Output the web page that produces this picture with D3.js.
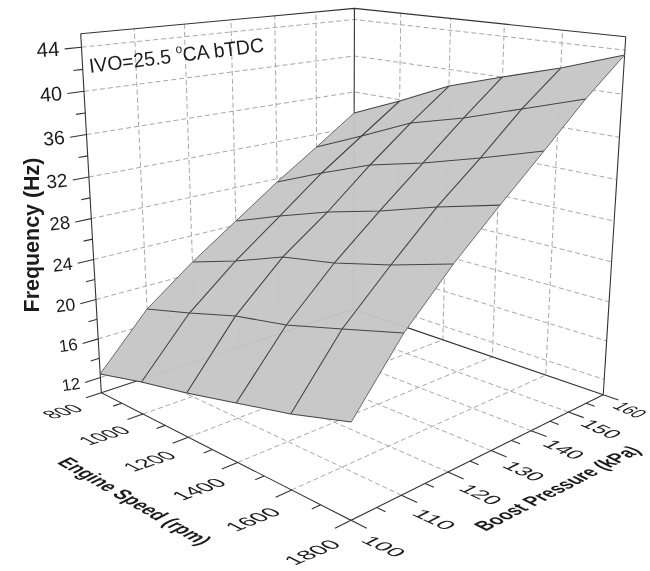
<!DOCTYPE html>
<html><head><meta charset="utf-8"><script src="https://cdn.jsdelivr.net/npm/d3@7"></script>
<style>body{margin:0;background:#fff}text{font-family:"Liberation Sans",Arial,sans-serif;fill:#1c1c1c}</style></head>
<body><svg id="c" width="650" height="571"></svg>
<script>
// ---- data ----
const engineSpeed=[800,1000,1200,1400,1600,1800];
const boostPressure=[100,110,120,130,140,150,160];
const freq100=[12.37,13.63,14.68,15.93,17.17,18.76];
const freq110=[17.60,18.97,20.48,21.45,22.94,24.46];
const freq120=[21.22,22.89,24.83,25.81,27.20,28.86];
const freq130=[24.43,26.33,28.09,29.53,31.23,32.71];
const freq140=[27.64,29.80,31.78,33.11,34.71,36.43];
const freq150=[30.60,32.84,35.19,36.65,38.44,40.23];
const freq160=[33.63,35.86,38.29,40.01,41.64,43.56];
const frequency=[freq100,freq110,freq120,freq130,freq140,freq150,freq160];
const freqTicks=[12,16,20,24,28,32,36,40,44];
const freqMinor=[14,18,22,26,30,34,38,42];
const rpmMinor=[900,1100,1300,1500,1700];
const boostMinor=[105,115,125,135,145,155];
const rpmDomain=[800,1800], boostDomain=[100,160], freqDomain=[10.4,45.2];

// ---- scales: normalised box coordinates, then the perspective camera ----
const U=d3.scaleLinear().domain(rpmDomain).range([0,1]);
const V=d3.scaleLinear().domain(boostDomain).range([0,1]);
const W=d3.scaleLinear().domain(freqDomain).range([0,1]);
const boxAnchors=[[0,0,0,101,392],[1,0,0,351,521],[1,1,0,603,394],[0,1,0,354,310],[0,0,1,81,34],[0,1,1,354,8],[1,1,1,626,37]];
function fitCamera(pts){const n=11,A=Array.from({length:n},()=>new Array(n+1).fill(0));
 const add=(r,b)=>{for(let i=0;i<n;i++){for(let j=0;j<n;j++)A[i][j]+=r[i]*r[j];A[i][n]+=r[i]*b;}};
 pts.forEach(([u,v,w,x,y])=>{add([u,v,w,1,0,0,0,0,-x*u,-x*v,-x*w],x);add([0,0,0,0,u,v,w,1,-y*u,-y*v,-y*w],y);});
 for(let i=0;i<n;i++){let p=i;for(let k=i+1;k<n;k++)if(Math.abs(A[k][i])>Math.abs(A[p][i]))p=k;[A[i],A[p]]=[A[p],A[i]];
  for(let k=0;k<n;k++)if(k!==i){const f=A[k][i]/A[i][i];for(let j=i;j<=n;j++)A[k][j]-=f*A[i][j];}}
 const s=A.map((r,i)=>r[n]/r[i]);return [s.slice(0,4),s.slice(4,8),[s[8],s[9],s[10],1]];}
const P=fitCamera(boxAnchors);
const cam=(u,v,w)=>{const h=P.map(r=>r[0]*u+r[1]*v+r[2]*w+r[3]);return [h[0]/h[2],h[1]/h[2]];};
const pt=(rpm,boost,f)=>cam(U(rpm),V(boost),W(f));
const line=d3.line();
const [rMin,rMax]=rpmDomain,[bMin,bMax]=boostDomain,[fMin,fMax]=freqDomain;

const svg=d3.select("#c");
const defs=svg.append("defs");
defs.append("filter").attr("id","soft").attr("x",0).attr("y",0).attr("width",1).attr("height",1)
  .append("feGaussianBlur").attr("stdDeviation",0.4);
const root=svg.append("g").attr("filter","url(#soft)");
root.append("rect").attr("width",650).attr("height",571).attr("fill","#fff");

// ---- dashed grid on the walls and floor ----
const grid=root.append("g").attr("fill","none").attr("stroke","#a8a8a8").attr("stroke-width",1).attr("stroke-dasharray","5 3");
const rpmGrid=engineSpeed.slice(1,-1), boostGrid=boostPressure.slice(1,-1);
freqTicks.forEach(f=>{
  grid.append("path").attr("d",line([pt(rMin,bMin,f),pt(rMin,bMax,f),pt(rMax,bMax,f)]));
});
rpmGrid.forEach(r=>{
  grid.append("path").attr("d",line([pt(r,bMin,fMin),pt(r,bMax,fMin),pt(r,bMax,fMax)]));
});
boostGrid.forEach(b=>{
  grid.append("path").attr("d",line([pt(rMax,b,fMin),pt(rMin,b,fMin),pt(rMin,b,fMax)]));
});

// ---- back frame ----
const frame=root.append("g").attr("fill","none").attr("stroke","#333").attr("stroke-width",1.1);
[[[rMin,bMin,fMin],[rMin,bMax,fMin],[rMax,bMax,fMin]],
 [[rMin,bMin,fMax],[rMin,bMax,fMax],[rMax,bMax,fMax]],
 [[rMin,bMax,fMin],[rMin,bMax,fMax]],
 [[rMax,bMax,fMin],[rMax,bMax,fMax]]
].forEach(s=>frame.append("path").attr("d",line(s.map(d=>pt(...d)))));

// ---- surface ----
const node=(i,j)=>pt(engineSpeed[j],boostPressure[i],frequency[i][j]);
const ni=boostPressure.length,nj=engineSpeed.length;
const outline=[...d3.range(nj).map(j=>node(0,j)),...d3.range(ni).map(i=>node(i,nj-1)),
  ...d3.range(nj-1,-1,-1).map(j=>node(ni-1,j)),...d3.range(ni-1,-1,-1).map(i=>node(i,0))];
root.append("path").attr("d",line(outline)+"Z").attr("fill","#c6c6c6").attr("fill-opacity",0.96);
const mesh=root.append("g").attr("fill","none").attr("stroke","#444").attr("stroke-width",1.1);
d3.range(ni).forEach(i=>mesh.append("path").attr("d",line(d3.range(nj).map(j=>node(i,j)))));
d3.range(1,nj-1).forEach(j=>mesh.append("path").attr("d",line(d3.range(ni).map(i=>node(i,j)))));
const edge=root.append("g").attr("fill","none").attr("stroke","#6a6a6a").attr("stroke-width",1);
[0,nj-1].forEach(j=>edge.append("path").attr("d",line(d3.range(ni).map(i=>node(i,j)))));

// ---- axes ----
const axes=root.append("g").attr("fill","none").attr("stroke","#333").attr("stroke-width",1.1);
axes.append("path").attr("d",line([pt(rMin,bMin,fMax),pt(rMin,bMin,fMin),pt(rMax,bMin,fMin),pt(rMax,bMax,fMin)]));
const major=0.05, minor=0.028;
const dv=(boostDomain[1]-boostDomain[0]), du=(rpmDomain[1]-rpmDomain[0]);
const tick=(a,b)=>axes.append("path").attr("d",line([a,b]));
freqTicks.forEach(f=>tick(pt(rMin,bMin,f),pt(rMin,bMin-major*dv,f)));
freqMinor.forEach(f=>tick(pt(rMin,bMin,f),pt(rMin,bMin-minor*dv,f)));
engineSpeed.forEach(r=>tick(pt(r,bMin,fMin),pt(r,bMin-major*dv,fMin)));
rpmMinor.forEach(r=>tick(pt(r,bMin,fMin),pt(r,bMin-minor*dv,fMin)));
boostPressure.forEach(b=>tick(pt(rMax,b,fMin),pt(rMax+major*du,b,fMin)));
boostMinor.forEach(b=>tick(pt(rMax,b,fMin),pt(rMax+minor*du,b,fMin)));

// ---- text, laid out with an affine matrix ----
const rad=d=>d*Math.PI/180;
function place(sel,x,y,deg,upDeg,len,sy){
  const nat=sel.node().getComputedTextLength();
  const sx=len?len/nat:1;
  const ex=sx*Math.cos(rad(deg)),ey=sx*Math.sin(rad(deg));
  const ux=-sy*Math.cos(rad(upDeg)),uy=-sy*Math.sin(rad(upDeg));
  sel.attr("transform",`matrix(${ex} ${ey} ${ux} ${uy} ${x} ${y})`);
}
const labels=root.append("g");
const zFont=d3.scaleLinear().domain([12,44]).range([16.5,20.5]);
const zDx=d3.scaleLinear().domain([12,44]).range([-29.5,-33.5]);
const zDy=d3.scaleLinear().domain([12,44]).range([6.5,2]);
const zDeg=d3.scaleLinear().domain([12,44]).range([-8,-4]);
freqTicks.forEach(f=>{
  const [x,y]=pt(rMin,bMin,f);
  const t=labels.append("text").text(f).attr("text-anchor","middle").attr("dy",".36em").attr("font-size",zFont(f));
  t.attr("transform",`translate(${x+zDx(f)},${y+zDy(f)}) rotate(${zDeg(f)})`);
});
const rpmDeg=d3.scaleLinear().domain(rpmDomain).range([-16,-23]);
const rpmLen=d3.scaleLinear().domain([1000,1800]).range([45,52]);
engineSpeed.forEach(r=>{
  const [x,y]=pt(r,bMin,fMin);
  const t=labels.append("text").text(r).attr("text-anchor","middle").attr("dy",".36em").attr("font-size",16);
  const dy=d3.scaleLinear().domain(rpmDomain).range([18.5,32])(r);
  place(t,x-39,y+dy,rpmDeg(r),207,r===800?33:rpmLen(r),1.3);
});
const boostDeg=d3.scaleLinear().domain(boostDomain).range([25,24]);
const boostLen=d3.scaleLinear().domain(boostDomain).range([40,35]);
boostPressure.forEach(b=>{
  const [x,y]=pt(rMax,b,fMin);
  const t=labels.append("text").text(b).attr("text-anchor","middle").attr("dy",".36em").attr("font-size",16);
  const dy=d3.scaleLinear().domain(boostDomain).range([26,15])(b);
  const last=b===bMax;
  place(t,x+(last?27:33),y+dy,boostDeg(b),-27,last?28:boostLen(b),1.2);
});
const ttl=labels.append("g").attr("font-weight","bold").attr("font-size",17);
place(ttl.append("text").text("Engine Speed (rpm)").attr("text-anchor","middle").attr("dy",".36em"),135,501,30,-27,166,1.25);
place(ttl.append("text").text("Boost Pressure (kPa)").attr("text-anchor","middle").attr("dy",".36em"),557,488,-27,207,176,1.25);
const fq=labels.append("text").text("Frequency (Hz)").attr("font-weight","bold").attr("font-size",20).attr("text-anchor","middle");
place(fq,39,235,-90,180,155,1.1);
const ivo=labels.append("text").attr("font-size",18);
ivo.append("tspan").text("IVO=25.5 ");
ivo.append("tspan").text("o").attr("font-size",11).attr("dy",-8);
ivo.append("tspan").text("CA bTDC").attr("dy",8);
place(ivo,90,73,-7,-97,176,1.12);
</script></body></html>
